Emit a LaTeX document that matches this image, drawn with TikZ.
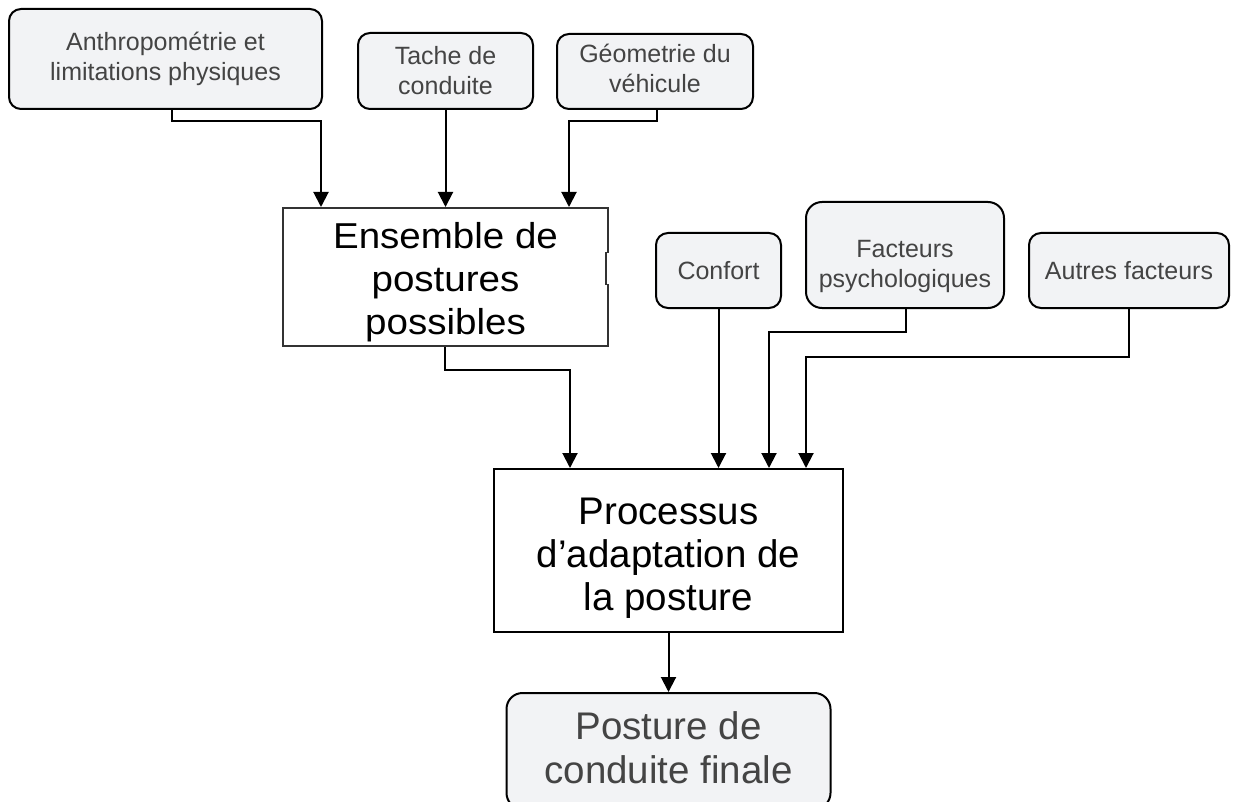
\documentclass[tikz,border=0pt]{standalone}
\usepackage{fontspec}
\setmainfont{Liberation Sans}
\usetikzlibrary{arrows.meta}
\definecolor{boxfill}{RGB}{242,243,245}
\definecolor{boxtext}{RGB}{68,68,68}
\begin{document}
\begin{tikzpicture}[x=1pt,y=-1pt,
  smallfont/.style={font=\fontsize{25}{30}\selectfont},
  rbox/.style={draw=black, line width=2pt, fill=boxfill, rounded corners=12pt,
    inner sep=0pt, text=boxtext, align=center, smallfont},
  stext/.style={smallfont, text=boxtext, align=center, inner sep=0pt},
  sbox/.style={draw=black, line width=2pt, fill=white, inner sep=0pt},
  btext/.style={align=center, inner sep=0pt},
  arr/.style={line width=2pt, -{Triangle[width=15pt,length=15pt]}}]
\useasboundingbox (0,0) rectangle (1236,802);

% top row
\node[rbox, minimum width=313pt, minimum height=100pt] (A) at (165.5,59) {Anthropométrie et\\limitations physiques};
\node[rbox, minimum width=175pt, minimum height=76pt] (T) at (445.5,71) {Tache de\\conduite};
\node[rbox, minimum width=196pt, minimum height=75pt] (G) at (655,71.5) {};
\node[stext] (Gt) at (655,68.5) {Géometrie du\\véhicule};

% ensemble
\node[sbox, draw=black!80, minimum width=325pt, minimum height=138pt] (E) at (445.5,277) {};
\draw[white, line width=2.6pt] (608,253) -- (608,284);
\draw[black!80, line width=2pt] (606,252) -- (606,285);
\node[btext, xscale=1.07, font=\fontsize{36}{43}\selectfont] (Et) at (445.5,282) {Ensemble de\\postures\\possibles};

% second row
\node[rbox, minimum width=125pt, minimum height=75pt] (C) at (718.5,270.5) {Confort};
\node[rbox, rounded corners=16pt, minimum width=198pt, minimum height=106pt] (F) at (905,255) {};
\node[stext] (Ft) at (905,266) {Facteurs\\psychologiques};
\node[rbox, minimum width=200pt, minimum height=75pt] (O) at (1129,270.5) {Autres facteurs};

% process
\node[sbox, minimum width=349pt, minimum height=163pt] (P) at (668.5,550.5) {};
\node[btext, font=\fontsize{38.5}{43}\selectfont] (Pt) at (668.5,558) {Processus\\d’adaptation de\\la posture};

% final
\node[rbox, rounded corners=16pt, minimum width=324pt, minimum height=116pt] (Q) at (668.5,751) {};
\node[btext, text=boxtext, font=\fontsize{38.5}{44}\selectfont] (Qt) at (668.5,748) {Posture de\\conduite finale};

% connectors
\coordinate (a1) at (172,121);
\coordinate (a2) at (321,121);
\draw[arr] (A.south -| a1) -- (a1) -- (a2) -- (E.north -| a2);
\draw[arr] (T.south) -- (E.north -| T.south);
\coordinate (g1) at (657,121);
\coordinate (g2) at (569,121);
\draw[arr] (G.south -| g1) -- (g1) -- (g2) -- (E.north -| g2);
\coordinate (e1) at (445,370);
\coordinate (e2) at (570,370);
\draw[arr] (E.south -| e1) -- (e1) -- (e2) -- (P.north -| e2);
\draw[arr] (C.south) -- (P.north -| C.south);
\coordinate (f1) at (906,332);
\coordinate (f2) at (769,332);
\draw[arr] (F.south -| f1) -- (f1) -- (f2) -- (P.north -| f2);
\coordinate (o1) at (1129,357);
\coordinate (o2) at (806,357);
\draw[arr] (O.south) -- (o1) -- (o2) -- (P.north -| o2);
\draw[arr] (P.south) -- (Q.north);
\end{tikzpicture}
\end{document}
